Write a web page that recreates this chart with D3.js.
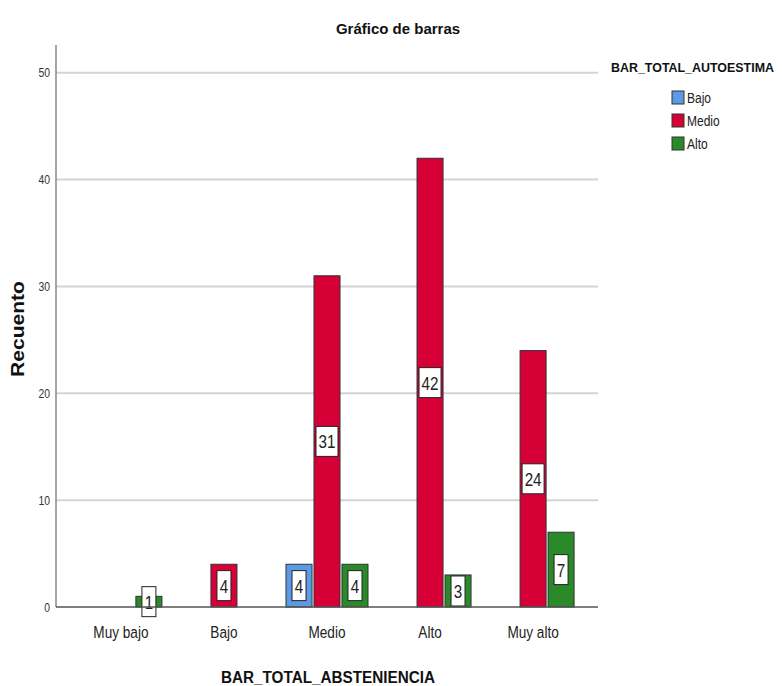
<!DOCTYPE html>
<html><head><meta charset="utf-8">
<script src="https://cdn.jsdelivr.net/npm/d3@7"></script>
<style>body{margin:0;background:#fff}</style>
</head><body>
<svg id="c" width="782" height="686"></svg>
<script>
const categories = ["Muy bajo","Bajo","Medio","Alto","Muy alto"];
const seriesNames = ["Bajo","Medio","Alto"];
const valBajo  = [0,0,4,0,0];
const valMedio = [0,4,31,42,24];
const valAlto  = [1,0,4,3,7];
const yTicks = [0,10,20,30,40,50];
const colors = ["#5b9be6","#d60036","#2a8a2a"];

const seriesVals = [valBajo, valMedio, valAlto];
const data = [];
categories.forEach((c,i)=>seriesNames.forEach((s,j)=>{
  if (seriesVals[j][i] > 0) data.push({cat:c, ser:s, v:seriesVals[j][i], j});
}));

const svg = d3.select("#c");
const sans = "'Liberation Sans',Arial,sans-serif";
const SX = 0.8; // condense factor to mimic a narrow font
function narrow(sel, px, py, txt, size, anchor){
  const g = sel.append("g").attr("transform",`translate(${px},${py}) scale(${SX},1)`);
  g.append("text").attr("text-anchor",anchor||"middle").attr("font-family",sans)
    .attr("font-size",size).attr("fill","#222").text(txt);
  return g;
}
const L=56, R=598, T=45, B=607;
const x = d3.scaleBand().domain(categories).range([L,R]).paddingOuter(0.13).paddingInner(0);
const y = d3.scaleLinear().domain([0,52.6]).range([B,T]);
const groupW = 82;
const xs = d3.scaleBand().domain(seriesNames).range([0,groupW]).paddingInner(0.07);

// gridlines
svg.append("g").selectAll("line").data(yTicks.filter(d=>d>0)).join("line")
  .attr("x1",L).attr("x2",R).attr("y1",d=>y(d)).attr("y2",d=>y(d))
  .attr("stroke","#d4d4d4").attr("stroke-width",2);

// y axis (ticks via d3 axis, text condensed)
const ya = svg.append("g").attr("transform",`translate(${L},0)`)
  .call(d3.axisLeft(y).tickValues(yTicks).tickSize(0).tickPadding(6));
ya.select(".domain").remove();
ya.selectAll(".tick text").attr("font-family",sans).attr("font-size",13).attr("fill","#333")
  .attr("transform",`scale(${SX},1)`).attr("x",-6/SX);
svg.append("line").attr("x1",L).attr("x2",L).attr("y1",T).attr("y2",B).attr("stroke","#888").attr("stroke-width",1.5);

// bars
const bars = svg.append("g").selectAll("g").data(data).join("g");
bars.append("rect")
  .attr("x",d=>x(d.cat)+x.bandwidth()/2-groupW/2+xs(d.ser))
  .attr("width",xs.bandwidth())
  .attr("y",d=>y(d.v)).attr("height",d=>B-y(d.v))
  .attr("fill",d=>colors[d.j]).attr("stroke","#333").attr("stroke-width",1);

// x baseline
svg.append("line").attr("x1",L).attr("x2",R).attr("y1",B).attr("y2",B).attr("stroke","#555").attr("stroke-width",1.5);

// labels
bars.each(function(d){
  const g = d3.select(this);
  const cx = x(d.cat)+x.bandwidth()/2-groupW/2+xs(d.ser)+xs.bandwidth()/2;
  const cy = y(d.v/2);
  const t = String(d.v);
  const w = t.length>1 ? 22 : 14;
  g.append("rect").attr("x",cx-w/2).attr("y",cy-15).attr("width",w).attr("height",30)
    .attr("fill","#fff").attr("stroke","#222").attr("stroke-width",1);
  narrow(g, cx, cy+7, t, 19);
});

// x axis labels
const xl = svg.append("g");
categories.forEach(c=>narrow(xl, x(c)+x.bandwidth()/2, 638, c, 17));

// titles
svg.append("text").attr("x",398).attr("y",34).attr("text-anchor","middle")
  .attr("font-family",sans).attr("font-weight","bold").attr("font-size",15)
  .attr("fill","#111").text("Gráfico de barras");
svg.append("text").attr("x",328).attr("y",683).attr("text-anchor","middle")
  .attr("font-family",sans).attr("font-weight","bold").attr("font-size",16)
  .attr("textLength",214).attr("lengthAdjust","spacingAndGlyphs")
  .attr("fill","#111").text("BAR_TOTAL_ABSTENIENCIA");
svg.append("text").attr("transform","translate(24,329) rotate(-90)").attr("text-anchor","middle")
  .attr("font-family",sans).attr("font-weight","bold").attr("font-size",18)
  .attr("textLength",96).attr("lengthAdjust","spacingAndGlyphs")
  .attr("fill","#111").text("Recuento");

// legend
svg.append("text").attr("x",611).attr("y",72)
  .attr("font-family",sans).attr("font-weight","bold").attr("font-size",13)
  .attr("textLength",163).attr("lengthAdjust","spacingAndGlyphs")
  .attr("fill","#111").text("BAR_TOTAL_AUTOESTIMA");
const lg = svg.append("g").selectAll("g").data(seriesNames).join("g")
  .attr("transform",(d,i)=>`translate(672,${91+i*23})`);
lg.append("rect").attr("width",12).attr("height",13).attr("fill",(d,i)=>colors[i]).attr("stroke","#333");
lg.each(function(d){ narrow(d3.select(this), 15, 12, d, 15, "start"); });
</script>
</body></html>
